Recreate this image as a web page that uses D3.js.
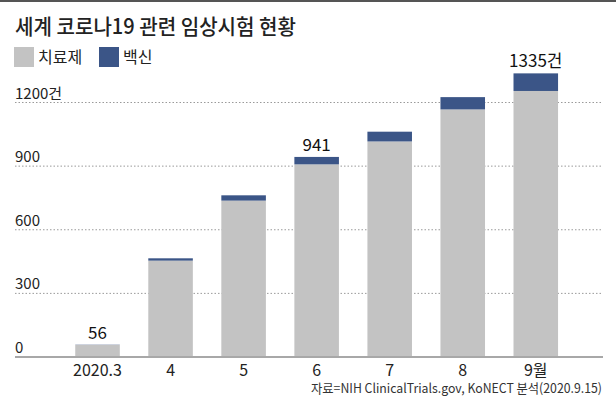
<!DOCTYPE html>
<html>
<head>
<meta charset="utf-8">
<script src="https://cdn.jsdelivr.net/npm/d3@7"></script>
<style>
  body { margin: 0; background: #fff; }
  text { font-family: "Noto Sans CJK KR", "Noto Sans", sans-serif; }
</style>
</head>
<body>
<div class="chart"></div>
<script>
// data
let months = ["2020.3", "4", "5", "6", "7", "8", "9월"];
let treatment = [55, 452, 735, 906, 1014, 1165, 1252];
let vaccine = [1, 11, 25, 35, 46, 58, 83];
let yTicks = [0, 300, 600, 900, 1200];
let yTickLabels = ["0", "300", "600", "900", "1200건"];
let labelIdx = [0, 3, 6];
let labelText = ["56", "941", "1335건"];

let width = 616;
let height = 399;
let colors = { treat: "#c3c3c3", vac: "#3b5587" };

let svg = d3
  .select(".chart")
  .append("svg")
  .attr("width", width)
  .attr("height", height);

// top rule
svg.append("rect").attr("x", 0).attr("y", 0).attr("width", width).attr("height", 2).style("fill", "#555");

// title
svg
  .append("text")
  .attr("x", 15)
  .attr("y", 34)
  .attr("textLength", 281)
  .attr("lengthAdjust", "spacingAndGlyphs")
  .style("font-size", "21px")
  .style("font-weight", 500)
  .style("fill", "#222")
  .text("세계 코로나19 관련 임상시험 현황");

// legend
let legend = [
  { name: "치료제", color: colors.treat, x: 14 },
  { name: "백신", color: colors.vac, x: 99 },
];
let lg = svg
  .selectAll(".legend")
  .data(legend)
  .enter()
  .append("g")
  .attr("transform", (d) => `translate(${d.x}, 47)`);
lg.append("rect").attr("width", 20).attr("height", 20).style("fill", (d) => d.color);
lg
  .append("text")
  .attr("x", 24)
  .attr("y", 16)
  .style("font-size", "16px")
  .style("fill", "#222")
  .text((d) => d.name);

// scales
let yScale = d3.scaleLinear().domain([0, 1200]).range([356.5, 102]);
let xScale = d3
  .scaleBand()
  .domain(months)
  .range([61, 572.3])
  .paddingInner(0.39)
  .paddingOuter(0.195);

// y grid + labels
let yAxis = d3
  .axisRight(yScale)
  .tickValues(yTicks)
  .tickSize(588)
  .tickFormat((d, i) => yTickLabels[i]);
let gy = svg.append("g").attr("transform", "translate(15, 0)").call(yAxis);
gy.select(".domain").remove();
gy.selectAll(".tick line")
  .style("stroke", "#9a9a9a")
  .style("stroke-dasharray", "1.5,2")
  .style("display", (d) => (d === 0 ? "none" : null));
gy.selectAll(".tick text")
  .attr("x", 0)
  .attr("dy", "-4px")
  .attr("y", 0)
  .style("font-family", '"Noto Sans CJK KR", sans-serif')
  .style("font-size", "15px")
  .style("fill", "#222")
  .style("text-anchor", "start");

// stacked bars
let rows = months.map((m, i) => ({ month: m, treat: treatment[i], vac: vaccine[i] }));
let stack = d3.stack().keys(["treat", "vac"])(rows);
svg
  .selectAll(".series")
  .data(stack)
  .enter()
  .append("g")
  .style("fill", (s) => colors[s.key])
  .selectAll("rect")
  .data((s) => s)
  .enter()
  .append("rect")
  .attr("x", (d) => xScale(d.data.month))
  .attr("y", (d) => yScale(d[1]))
  .attr("width", xScale.bandwidth())
  .attr("height", (d) => yScale(d[0]) - yScale(d[1]));

// baseline
svg
  .append("line")
  .attr("x1", 15)
  .attr("x2", 603)
  .attr("y1", yScale(0) + 0.5)
  .attr("y2", yScale(0) + 0.5)
  .style("stroke", "#a8a8a8")
  .style("stroke-width", 2);

// x labels
let xAxis = d3.axisBottom(xScale).tickSize(0).tickPadding(8);
let gx = svg.append("g").attr("transform", `translate(0, ${yScale(0)})`).call(xAxis);
gx.select(".domain").remove();
gx.selectAll("text")
  .style("font-family", '"Noto Sans CJK KR", sans-serif')
  .style("font-size", "16px")
  .style("fill", "#222");

// value labels
svg
  .selectAll(".value")
  .data(labelIdx)
  .enter()
  .append("text")
  .attr("x", (i) => xScale(months[i]) + xScale.bandwidth() / 2)
  .attr("y", (i) => yScale(treatment[i] + vaccine[i]) - 6)
  .style("text-anchor", "middle")
  .style("font-size", "17px")
  .style("fill", "#111")
  .text((i, k) => labelText[k]);

// source
svg
  .append("text")
  .attr("x", 602)
  .attr("y", 393)
  .attr("textLength", 291)
  .attr("lengthAdjust", "spacingAndGlyphs")
  .style("text-anchor", "end")
  .style("font-size", "13px")
  .style("fill", "#333")
  .text("자료=NIH ClinicalTrials.gov, KoNECT 분석(2020.9.15)");
</script>
</body>
</html>
